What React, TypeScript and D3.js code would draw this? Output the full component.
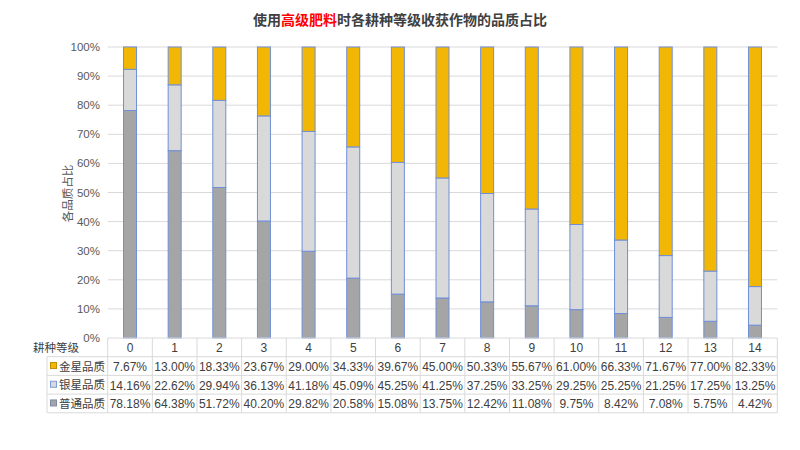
import React from "react";
import * as d3 from "d3";

const levels = ["0", "1", "2", "3", "4", "5", "6", "7", "8", "9", "10", "11", "12", "13", "14"];
const gold = [7.67, 13.0, 18.33, 23.67, 29.0, 34.33, 39.67, 45.0, 50.33, 55.67, 61.0, 66.33, 71.67, 77.0, 82.33];
const silver = [14.16, 22.62, 29.94, 36.13, 41.18, 45.09, 45.25, 41.25, 37.25, 33.25, 29.25, 25.25, 21.25, 17.25, 13.25];
const normal = [78.18, 64.38, 51.72, 40.2, 29.82, 20.58, 15.08, 13.75, 12.42, 11.08, 9.75, 8.42, 7.08, 5.75, 4.42];
const seriesNames = ["金星品质", "银星品质", "普通品质"];
const yTicks = [0, 10, 20, 30, 40, 50, 60, 70, 80, 90, 100];

const W = 800;
const H = 450;
const left = 107.7;
const right = 777.3;
const top = 47;
const bottom = 338;
const rowH = 18.7;
const font = "'Liberation Sans', 'Noto Sans CJK SC', sans-serif";
const textColor = "#404040";
const gridColor = "#d9d9d9";
const colors = { gold: "#f2b705", silver: "#d9d9d9", normal: "#a5a5a5" };
const barStroke = "#6f8fd8";

export default function App() {
  const x = d3.scaleBand<string>().domain(levels).range([left, right]).padding(0);
  const y = d3.scaleLinear().domain([0, 100]).range([bottom, top]);
  const barW = 13;

  const rows = levels.map((lv, i) => ({ lv, normal: normal[i], silver: silver[i], gold: gold[i] }));
  const stack = d3.stack<any>().keys(["normal", "silver", "gold"])(rows);

  const seriesData = [gold, silver, normal];
  const seriesColors = [colors.gold, colors.silver, colors.normal];
  const markerStroke = ["#c08f00", "#7f9bd8", "#7f8aa8"];

  return (
    <svg width={W} height={H} style={{ display: "block", position: "absolute", left: 0, top: 0, background: "#fff" }}>
      <text x={400} y={25} textAnchor="middle" fontFamily={font} fontSize={14} fontWeight="bold" fill={textColor}>
        使用<tspan fill="#ff0000">高级肥料</tspan>时各耕种等级收获作物的品质占比
      </text>

      {yTicks.map((t) => (
        <g key={t}>
          {t > 0 && <line x1={left} x2={right} y1={y(t)} y2={y(t)} stroke={gridColor} strokeWidth={1} />}
          <text x={100} y={y(t) + 4} textAnchor="end" fontFamily={font} fontSize={11.5} fill="#595959">
            {t}%
          </text>
        </g>
      ))}

      <text
        transform={`translate(72,${(top + bottom) / 2 + 1}) rotate(-90)`}
        textAnchor="middle"
        fontFamily={font}
        fontSize={11.5}
        fill="#595959"
      >
        各品质占比
      </text>

      {stack.map((layer) => (
        <g key={layer.key}>
          {layer.map((d, i) => {
            const cx = (x(levels[i]) as number) + x.bandwidth() / 2;
            return (
              <rect
                key={i}
                x={cx - barW / 2}
                y={y(d[1])}
                width={barW}
                height={y(d[0]) - y(d[1])}
                fill={(colors as any)[layer.key]}
                stroke={barStroke}
                strokeWidth={1}
              />
            );
          })}
        </g>
      ))}

      {/* data table */}
      <g fontFamily={font} fontSize={12} fill={textColor}>
        <text x={79} y={bottom + rowH / 2 + 4.5} textAnchor="end" fontSize={11.5}>
          耕种等级
        </text>
        {levels.map((lv) => (
          <text key={lv} x={(x(lv) as number) + x.bandwidth() / 2} y={bottom + rowH / 2 + 5} textAnchor="middle">
            {lv}
          </text>
        ))}
        {seriesNames.map((name, r) => {
          const ry = bottom + rowH * (r + 1);
          return (
            <g key={name}>
              <rect x={50.5} y={ry + rowH / 2 - 3.5} width={6} height={6} fill={seriesColors[r]} stroke={markerStroke[r]} strokeWidth={1} />
              <text x={59} y={ry + rowH / 2 + 4.5} fontSize={11.5}>
                {name}
              </text>
              {seriesData[r].map((v, i) => (
                <text key={i} x={(x(levels[i]) as number) + x.bandwidth() / 2} y={ry + rowH / 2 + 5} textAnchor="middle">
                  {v.toFixed(2)}%
                </text>
              ))}
            </g>
          );
        })}
        {/* table grid */}
        {[0, 1, 2, 3, 4].map((k) => (
          <line
            key={"h" + k}
            x1={k === 0 ? left : 47}
            x2={right}
            y1={bottom + rowH * k}
            y2={bottom + rowH * k}
            stroke={gridColor}
            strokeWidth={1}
          />
        ))}
        {levels.map((lv, i) => (
          <line
            key={"v" + i}
            x1={x(lv) as number}
            x2={x(lv) as number}
            y1={bottom}
            y2={bottom + rowH * 4}
            stroke={gridColor}
          />
        ))}
        <line x1={right} x2={right} y1={bottom} y2={bottom + rowH * 4} stroke={gridColor} />
        <line x1={47} x2={47} y1={bottom + rowH} y2={bottom + rowH * 4} stroke={gridColor} />
      </g>
    </svg>
  );
}
